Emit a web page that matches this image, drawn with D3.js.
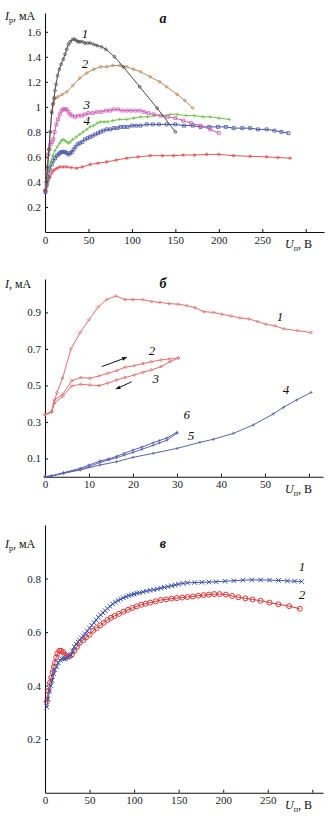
<!DOCTYPE html>
<html><head><meta charset="utf-8">
<script src="https://cdn.jsdelivr.net/npm/d3@7"></script>
<style>body{margin:0;background:#fff}svg{display:block}text{font-family:"Liberation Serif","Times New Roman",serif}</style>
</head><body><svg id="c" width="330" height="823"></svg>
<script>
// ---------- Panel а ----------
const aTicksX = [0, 50, 100, 150, 200, 250, 300];
const aTicksY = [0.2, 0.4, 0.6, 0.8, 1.0, 1.2, 1.4, 1.6];
const a1U = [0.5, 1.5, 3, 4.5, 6, 7.7, 9, 10.4, 11.5, 12.7, 14.5, 16.5, 18.5, 21, 23, 25, 27, 29, 32, 34, 36, 38, 40, 43, 46, 49, 52, 56, 60, 65, 70, 80, 90, 109, 129, 150];
const a1I = [0.33, 0.40, 0.52, 0.66, 0.80, 0.96, 1.02, 1.07, 1.13, 1.18, 1.25, 1.30, 1.34, 1.38, 1.42, 1.46, 1.50, 1.52, 1.54, 1.54, 1.53, 1.52, 1.52, 1.52, 1.51, 1.51, 1.51, 1.50, 1.49, 1.48, 1.46, 1.40, 1.32, 1.16, 0.99, 0.80];
const a2U = [0.5, 2, 4, 6, 8, 10, 12, 15, 20, 25, 32, 40, 48, 56, 64, 71, 78, 86, 94, 102, 110, 121, 132, 140, 152, 161, 170];
const a2I = [0.34, 0.45, 0.62, 0.80, 0.95, 1.03, 1.07, 1.08, 1.10, 1.12, 1.17, 1.23, 1.27, 1.30, 1.32, 1.32, 1.33, 1.33, 1.32, 1.30, 1.28, 1.24, 1.20, 1.16, 1.10, 1.05, 0.99];
const a3U = [0.5, 2, 3.8, 5, 6.5, 8, 9.5, 11, 13, 15, 17, 19, 21, 23, 25, 27, 29, 31, 34.5, 38, 42, 46, 50, 55, 60, 65, 70, 75, 79, 84, 89, 94, 99, 104, 109, 114, 119, 125, 133, 141, 150, 159, 168, 179, 190, 200];
const a3I = [0.33, 0.48, 0.62, 0.66, 0.70, 0.72, 0.74, 0.80, 0.86, 0.90, 0.94, 0.97, 0.98, 0.98, 0.98, 0.96, 0.94, 0.93, 0.92, 0.93, 0.93, 0.94, 0.95, 0.95, 0.96, 0.96, 0.97, 0.97, 0.98, 0.98, 0.97, 0.97, 0.97, 0.97, 0.97, 0.96, 0.95, 0.94, 0.93, 0.92, 0.91, 0.89, 0.87, 0.85, 0.82, 0.79];
const a4U = [0.5, 2, 4, 6.5, 9, 11.5, 14, 17, 19, 21, 23, 25, 27, 29, 32, 36, 40, 44, 48, 52, 56, 60, 64, 68, 72, 78, 86, 94, 102, 110, 118, 126, 135, 144, 152, 162, 172, 182, 190, 200, 212];
const a4I = [0.34, 0.42, 0.50, 0.56, 0.61, 0.65, 0.68, 0.71, 0.73, 0.74, 0.73, 0.72, 0.71, 0.72, 0.74, 0.76, 0.78, 0.80, 0.82, 0.84, 0.85, 0.87, 0.88, 0.88, 0.88, 0.89, 0.90, 0.90, 0.91, 0.92, 0.92, 0.93, 0.93, 0.94, 0.94, 0.93, 0.93, 0.92, 0.92, 0.91, 0.90];
const a5U = [0.5, 2, 3.8, 5.5, 7.7, 9.6, 11.5, 13.5, 15.5, 17, 19, 21, 23, 25, 27, 29, 31, 33, 35, 37.5, 40, 43, 46, 49, 52, 55, 58, 61, 64, 67, 71, 75, 79, 83, 87, 91, 95, 100, 105, 110, 117, 124, 131, 140, 150, 160, 170, 179, 189, 199, 208, 217, 227, 236, 245, 255, 264, 272, 280];
const a5I = [0.32, 0.38, 0.44, 0.50, 0.54, 0.57, 0.59, 0.61, 0.62, 0.63, 0.64, 0.64, 0.64, 0.63, 0.62, 0.63, 0.64, 0.66, 0.68, 0.70, 0.71, 0.72, 0.74, 0.75, 0.76, 0.77, 0.78, 0.79, 0.80, 0.81, 0.82, 0.82, 0.83, 0.83, 0.84, 0.84, 0.84, 0.85, 0.85, 0.85, 0.86, 0.86, 0.86, 0.86, 0.86, 0.85, 0.85, 0.84, 0.84, 0.84, 0.84, 0.83, 0.83, 0.83, 0.82, 0.82, 0.81, 0.80, 0.79];
const a6U = [0.5, 2, 4, 5.8, 7.7, 9.5, 11.5, 14, 17, 21, 25, 30, 36.5, 43, 52, 61, 71, 82, 94, 107, 121, 135, 148, 159, 172, 186, 200, 217, 236, 255, 268, 282];
const a6I = [0.32, 0.36, 0.41, 0.44, 0.47, 0.49, 0.50, 0.51, 0.52, 0.52, 0.52, 0.515, 0.51, 0.52, 0.54, 0.55, 0.56, 0.575, 0.59, 0.60, 0.61, 0.61, 0.61, 0.615, 0.615, 0.62, 0.62, 0.61, 0.605, 0.60, 0.595, 0.59];
const aLabels = [["1", 46, 1.59], ["2", 46, 1.35], ["3", 48, 1.02], ["4", 48, 0.89]];

// ---------- Panel б ----------
const bTicksX = [0, 10, 20, 30, 40, 50, 60];
const bTicksY = [0.1, 0.3, 0.5, 0.7, 0.9];
const b1U = [0, 1.5, 2.7, 4, 5.9, 8, 10, 12.1, 14, 16.1, 18.2, 20, 22.2, 24.2, 26.1, 28.2, 30.3, 32.2, 34.1, 36.1, 38.3, 40.2, 42.3, 44.3, 46.4, 48.3, 50.2, 52.3, 54.3, 57.4, 60.5];
const b1I = [0.34, 0.355, 0.46, 0.54, 0.70, 0.79, 0.86, 0.93, 0.97, 0.99, 0.97, 0.97, 0.97, 0.96, 0.955, 0.948, 0.945, 0.937, 0.926, 0.904, 0.90, 0.89, 0.88, 0.87, 0.864, 0.85, 0.835, 0.826, 0.81, 0.80, 0.79];
const b2U = [0, 1.5, 2.1, 4, 6.1, 8.1, 10.2, 12.3, 14.2, 16.3, 18.2, 20.3, 22.3, 24.2, 26.4, 28.3, 30.3];
const b2I = [0.34, 0.355, 0.42, 0.45, 0.526, 0.543, 0.539, 0.552, 0.566, 0.581, 0.60, 0.608, 0.62, 0.63, 0.64, 0.645, 0.65];
const b3U = [0, 1.5, 2.1, 4, 6.1, 8.1, 10.2, 12.3, 14.2, 16.3, 18.2, 20.3, 22.3, 24.2, 26.4, 28.4, 30.3];
const b3I = [0.34, 0.355, 0.40, 0.44, 0.497, 0.506, 0.502, 0.499, 0.512, 0.53, 0.543, 0.557, 0.572, 0.585, 0.603, 0.63, 0.65];
const b4U = [0, 1.5, 4.2, 8, 12.5, 16.3, 20, 24.6, 30, 35.2, 38.3, 42.8, 47.3, 51.9, 54.2, 57.2, 60.5];
const b4I = [0, 0.004, 0.018, 0.037, 0.064, 0.082, 0.106, 0.128, 0.155, 0.188, 0.205, 0.237, 0.283, 0.344, 0.38, 0.42, 0.462];
const b5U = [0, 1.5, 4.2, 8, 10, 12.5, 14.5, 16.3, 18, 20, 22, 24.6, 26, 27.7, 30];
const b5I = [0, 0.004, 0.02, 0.04, 0.055, 0.078, 0.092, 0.104, 0.118, 0.133, 0.150, 0.172, 0.185, 0.20, 0.238];
const b6U = [0, 1.5, 4.2, 8, 10, 12.5, 14.5, 16.3, 18, 20, 22, 24.6, 26, 27.7, 30];
const b6I = [0, 0.005, 0.022, 0.046, 0.064, 0.086, 0.098, 0.112, 0.128, 0.146, 0.162, 0.186, 0.198, 0.212, 0.243];
const bLabels = [["1", 53.4, 0.88], ["2", 24.3, 0.69], ["3", 25.2, 0.54], ["4", 54.8, 0.475], ["6", 32.2, 0.338], ["5", 33.2, 0.228]];
const bArrows = [[12.9, 0.603, 18.6, 0.654], [19.7, 0.52, 16.1, 0.48]];

// ---------- Panel в ----------
const cTicksX = [0, 50, 100, 150, 200, 250, 300];
const cTicksY = [0.2, 0.4, 0.6, 0.8];
const c1U = [2, 3.5, 5, 6.5, 8, 9.5, 11, 13, 15, 17, 19, 21, 23, 25, 27, 29, 31, 33, 35, 37, 39, 41, 43, 45, 47.5, 50, 52.5, 55, 57.5, 60, 62.5, 65, 67.5, 70, 73, 76, 79, 82, 85, 88, 91, 94, 97, 100, 103, 106, 110, 114, 118, 122, 126, 130, 134, 138, 142, 146, 150, 155, 160, 168, 176, 184, 192, 202, 212, 222, 232, 242, 252, 262, 272, 280, 288];
const c1I = [0.32, 0.35, 0.38, 0.40, 0.42, 0.445, 0.46, 0.47, 0.485, 0.495, 0.50, 0.50, 0.50, 0.505, 0.51, 0.515, 0.53, 0.545, 0.555, 0.563, 0.57, 0.578, 0.586, 0.594, 0.604, 0.615, 0.625, 0.635, 0.645, 0.655, 0.664, 0.672, 0.68, 0.688, 0.696, 0.705, 0.712, 0.718, 0.723, 0.728, 0.732, 0.736, 0.739, 0.742, 0.745, 0.747, 0.75, 0.753, 0.756, 0.758, 0.761, 0.764, 0.767, 0.77, 0.773, 0.776, 0.779, 0.782, 0.784, 0.785, 0.786, 0.787, 0.788, 0.79, 0.792, 0.794, 0.795, 0.795, 0.794, 0.793, 0.791, 0.79, 0.789];
const c2U = [2, 3.7, 5.5, 7, 8.6, 10, 11.2, 12.5, 14, 16, 18, 20.5, 22.5, 24.5, 27, 30, 33, 36, 39, 43, 46, 50, 54, 58, 62, 66, 70, 74, 78, 83, 88, 93, 98, 103, 108, 113, 118, 124, 130, 136, 142, 148, 154, 160, 166, 172, 178, 184, 190, 196, 203, 210, 217, 225, 233, 242, 252, 262, 274, 286];
const c2I = [0.34, 0.38, 0.41, 0.43, 0.45, 0.47, 0.485, 0.505, 0.52, 0.53, 0.53, 0.525, 0.515, 0.508, 0.51, 0.515, 0.53, 0.545, 0.56, 0.57, 0.58, 0.59, 0.605, 0.615, 0.625, 0.635, 0.645, 0.653, 0.66, 0.668, 0.676, 0.683, 0.69, 0.696, 0.702, 0.706, 0.71, 0.715, 0.72, 0.722, 0.725, 0.727, 0.729, 0.731, 0.733, 0.736, 0.738, 0.74, 0.742, 0.742, 0.74, 0.735, 0.73, 0.726, 0.722, 0.717, 0.71, 0.704, 0.697, 0.687];
const cLabels = [["1", 288.4, 0.845], ["2", 288.4, 0.739]];

const zip = (u, v) => u.map((d, k) => [d, v[k]]);
const svg = d3.select("#c");

function markerPath(type, s) {
  if (type === "circle") return d3.symbol(d3.symbolCircle, Math.PI * s * s)();
  if (type === "square") return `M${-s},${-s}H${s}V${s}H${-s}Z`;
  if (type === "plus") return `M${-s},0H${s}M0,${-s}V${s}`;
  if (type === "x") return `M${-s},${-s}L${s},${s}M${-s},${s}L${s},${-s}`;
  if (type === "star") return `M${-s},0H${s}M0,${-s}V${s}M${-s*0.7},${-s*0.7}L${s*0.7},${s*0.7}M${-s*0.7},${s*0.7}L${s*0.7},${-s*0.7}`;
  if (type === "diamond") return `M0,${-s}L${s},0L0,${s}L${-s},0Z`;
}

function drawPanel(p) {
  const g = svg.append("g");
  const x = d3.scaleLinear().domain(p.xd).range(p.xr);
  const y = d3.scaleLinear().domain(p.yd).range(p.yr);
  const fmt = p.fmt || (d => d.toFixed(1));
  const lastX = p.tx[p.tx.length - 1];
  const ax = g.append("g").attr("transform", `translate(0,${p.yr[0]})`)
    .call(d3.axisBottom(x).tickValues(p.tx).tickSizeInner(-3).tickSizeOuter(0).tickPadding(4)
      .tickFormat(d => (d === lastX ? "" : d3.format("d")(d))));
  const ay = g.append("g").attr("transform", `translate(${p.xr[0]},0)`)
    .call(d3.axisLeft(y).tickValues(p.ty).tickSizeInner(-3).tickSizeOuter(0).tickPadding(4).tickFormat(fmt));
  [ax, ay].forEach(a => {
    a.selectAll("path.domain").attr("stroke", "#111").attr("stroke-width", 1.1);
    a.selectAll(".tick line").attr("stroke", "#111");
    a.selectAll("text").attr("font-family", "Liberation Serif").attr("font-size", 11).attr("fill", "#1a1a2e");
  });
  // Y label
  const yl = g.append("text").attr("x", 5).attr("y", p.ylabY).attr("font-size", 12).attr("fill", "#111");
  yl.append("tspan").attr("font-style", "italic").text("I");
  if (p.ysub) yl.append("tspan").attr("font-size", 8).attr("dy", 3).text(p.ysub);
  yl.append("tspan").attr("dy", p.ysub ? -3 : 0).text(", мА");
  // X label
  const xl = g.append("text").attr("x", 285).attr("y", p.yr[0] + 16).attr("font-size", 12).attr("fill", "#111");
  xl.append("tspan").attr("font-style", "italic").text("U");
  xl.append("tspan").attr("font-size", 8).attr("dy", 3).text("п");
  xl.append("tspan").attr("dy", -3).text(", В");
  // title
  g.append("text").attr("x", 163).attr("y", p.titleY).attr("text-anchor", "middle")
    .attr("dominant-baseline", "central").attr("font-style", "italic").attr("font-weight", "bold")
    .attr("font-size", 14).attr("fill", "#111").text(p.title);
  const line = d3.line().x(d => x(d[0])).y(d => y(d[1]));
  p.series.forEach(s => {
    const pts = zip(s.u, s.i);
    g.append("path").datum(pts).attr("d", line).attr("fill", "none")
      .attr("stroke", s.color).attr("stroke-width", s.lw || 1);
    g.append("g").selectAll("path").data(pts).join("path")
      .attr("transform", d => `translate(${x(d[0])},${y(d[1])})`)
      .attr("d", markerPath(s.marker, s.ms))
      .attr("fill", s.fill || "none").attr("stroke", s.color).attr("stroke-width", s.mw || 0.8);
  });
  p.labels.forEach(l => {
    g.append("text").attr("x", x(l[1])).attr("y", y(l[2])).attr("text-anchor", "middle")
      .attr("dominant-baseline", "central").attr("font-style", "italic").attr("font-size", 13)
      .attr("fill", "#111").text(l[0]);
  });
  (p.arrows || []).forEach(a => {
    const x1 = x(a[0]), y1 = y(a[1]), x2 = x(a[2]), y2 = y(a[3]);
    const ang = Math.atan2(y2 - y1, x2 - x1), h = 5;
    g.append("line").attr("x1", x1).attr("y1", y1).attr("x2", x2).attr("y2", y2)
      .attr("stroke", "#111").attr("stroke-width", 1);
    g.append("path").attr("d", `M${x2},${y2}L${x2 - h * Math.cos(ang - 0.4)},${y2 - h * Math.sin(ang - 0.4)}L${x2 - h * Math.cos(ang + 0.4)},${y2 - h * Math.sin(ang + 0.4)}Z`)
      .attr("fill", "#111");
  });
}

drawPanel({
  xd: [0, 321], xr: [45, 324], yd: [0, 1.75], yr: [232, 13],
  tx: aTicksX, ty: aTicksY, fmt: d => (d === 1 ? "1" : d.toFixed(1)),
  ysub: "р", ylabY: 20, title: "а", titleY: 18,
  series: [
    {u: a6U, i: a6I, color: "#e25a5a", marker: "star", ms: 1.8},
    {u: a5U, i: a5I, color: "#4453a6", marker: "square", ms: 1.5},
    {u: a4U, i: a4I, color: "#6cc04a", marker: "plus", ms: 1.8},
    {u: a3U, i: a3I, color: "#d25cb6", marker: "square", ms: 1.5},
    {u: a2U, i: a2I, color: "#b88a5c", marker: "circle", ms: 1.3},
    {u: a1U, i: a1I, color: "#4a4a4a", marker: "circle", ms: 1.4}
  ],
  labels: aLabels
});

drawPanel({
  xd: [0, 63.2], xr: [45, 323], yd: [0, 1.083], yr: [476.7, 279],
  tx: bTicksX, ty: bTicksY,
  ysub: null, ylabY: 288, title: "б", titleY: 283,
  series: [
    {u: b1U, i: b1I, color: "#e76e6e", marker: "diamond", ms: 1.5},
    {u: b2U, i: b2I, color: "#e76e6e", marker: "diamond", ms: 1.5},
    {u: b3U, i: b3I, color: "#e76e6e", marker: "diamond", ms: 1.5},
    {u: b4U, i: b4I, color: "#5a64b2", marker: "plus", ms: 1.5},
    {u: b5U, i: b5I, color: "#5a64b2", marker: "plus", ms: 1.5},
    {u: b6U, i: b6I, color: "#5a64b2", marker: "plus", ms: 1.5}
  ],
  labels: bLabels, arrows: bArrows
});

drawPanel({
  xd: [0, 312], xr: [45, 323], yd: [0, 1.0], yr: [792.7, 525],
  tx: cTicksX, ty: cTicksY,
  ysub: "р", ylabY: 548, title: "в", titleY: 543,
  series: [
    {u: c2U, i: c2I, color: "#e53535", marker: "circle", ms: 2.5, mw: 1},
    {u: c1U, i: c1I, color: "#3a52b2", marker: "x", ms: 2.3, mw: 1}
  ],
  labels: cLabels
});
</script>
</body></html>
